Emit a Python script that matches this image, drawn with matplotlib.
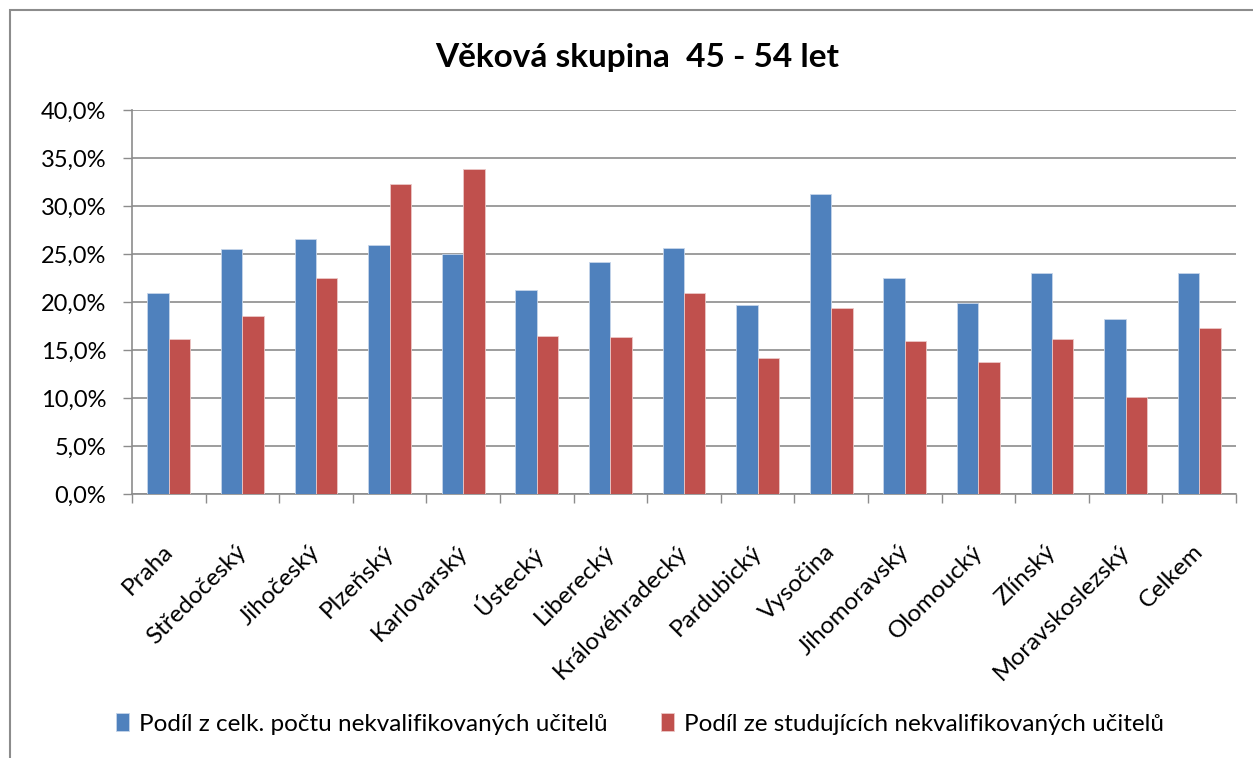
import numpy as np
import matplotlib.pyplot as plt
from matplotlib.patches import Rectangle
from matplotlib.ticker import FuncFormatter, MultipleLocator, NullFormatter
from matplotlib.transforms import ScaledTranslation

plt.rcParams['font.family'] = ['Lato', 'DejaVu Sans']

kraje = ['Praha', 'Středočeský', 'Jihočeský', 'Plzeňský', 'Karlovarský', 'Ústecký',
         'Liberecký', 'Královéhradecký', 'Pardubický', 'Vysočina', 'Jihomoravský',
         'Olomoucký', 'Zlínský', 'Moravskoslezský', 'Celkem']
podil_celk = [20.9, 25.5, 26.6, 25.9, 25.0, 21.3, 24.2, 25.6, 19.7, 31.3, 22.5, 19.9, 23.05, 18.2, 23.05]
podil_stud = [16.1, 18.5, 22.5, 32.3, 33.9, 16.5, 16.4, 20.9, 14.2, 19.4, 15.9, 13.75, 16.1, 10.1, 17.3]
nazvy = ['Podíl z celk. počtu nekvalifikovaných učitelů',
         'Podíl ze studujících nekvalifikovaných učitelů']

W, H = 1253, 758
fig = plt.figure(figsize=(W / 100, H / 100), dpi=100)
ax = fig.add_axes([132 / W, 1 - 494 / H, (1236 - 132) / W, (494 - 110) / H])

# ramecek grafu
fig.patches.append(Rectangle((10 / W, -0.1), 1.2, 1 - 10 / H + 0.1, transform=fig.transFigure,
                             fill=False, edgecolor='#8c8c8c', linewidth=1.5))

x = np.arange(len(kraje))
w = 0.29
ax.bar(x - w / 2, podil_celk, w, color='#4f81bd', edgecolor='#c6d5ea', linewidth=0.6, label=nazvy[0], zorder=3)
ax.bar(x + w / 2, podil_stud, w, color='#c0504d', edgecolor='#ecc8c7', linewidth=0.6, label=nazvy[1], zorder=3)

ax.set_xlim(-0.5, len(kraje) - 0.5)
ax.set_ylim(0, 40)
ax.yaxis.set_major_locator(MultipleLocator(5))
ax.yaxis.set_major_formatter(FuncFormatter(lambda v, p: f'{v:.1f}%'.replace('.', ',')))
ax.grid(axis='y', color='#8c8c8c', linewidth=1.2, zorder=0)

# carky mezi kategoriemi
ax.set_xticks(np.arange(-0.5, len(kraje), 1))
ax.xaxis.set_major_formatter(NullFormatter())
ax.tick_params(axis='x', length=6.5, color='#8c8c8c', width=1)
ax.tick_params(axis='y', length=6.5, color='#8c8c8c', width=1, labelsize=17, pad=12)

# sikme popisky kategorii
posun = ScaledTranslation(-7 / 100, -47 / 100, fig.dpi_scale_trans)
for xi, k in zip(x, kraje):
    ax.text(xi, 0, k, transform=ax.get_xaxis_transform() + posun, rotation=45,
            rotation_mode='anchor', ha='right', va='top', fontsize=17.5)

for s in ['top', 'right']:
    ax.spines[s].set_visible(False)
for s in ['left', 'bottom']:
    ax.spines[s].set_color('#8c8c8c')
    ax.spines[s].set_linewidth(1.2)

fig.text(637 / W, 1 - 57 / H, 'Věková skupina  45 - 54 let', ha='center', va='center',
         fontsize=24, fontweight='bold')

fig.legend(loc='center', bbox_to_anchor=(640 / W, 1 - 724 / H), ncol=2, frameon=False,
           fontsize=17.5, handlelength=0.55, handleheight=0.7, columnspacing=2.2, handletextpad=0.4)

fig.savefig('out.png', dpi=100)
